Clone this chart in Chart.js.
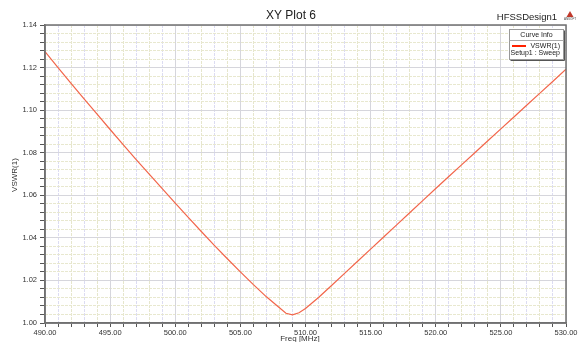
<!DOCTYPE html>
<html>
<head>
<meta charset="utf-8">
<title>XY Plot 6</title>
<script src="https://cdn.jsdelivr.net/npm/chart.js@4"></script>
<style>
  html, body { margin: 0; padding: 0; background: #fff; }
  #wrap { position: relative; width: 581px; height: 342px; }
</style>
</head>
<body>
<div id="wrap"><canvas id="chart" width="581" height="342"></canvas></div>
<script>
// Datos
const freqs = [490, 491, 492, 493, 494, 495, 496, 497, 498, 499, 500, 501, 502, 503, 504, 505, 506, 507, 508, 508.5, 509, 509.5, 510,
  511, 512, 513, 514, 515, 516, 517, 518, 519, 520, 521, 522, 523, 524, 525, 526, 527, 528, 529, 530];
const vswr = [1.1275, 1.1200, 1.1126, 1.1053, 1.0981, 1.0909, 1.0838, 1.0768, 1.0699, 1.0631, 1.0563, 1.0496, 1.0430, 1.0365, 1.0302,
  1.0240, 1.0180, 1.0123, 1.0072, 1.0046, 1.0038, 1.0048, 1.0068, 1.0120, 1.0176, 1.0233, 1.0290, 1.0347, 1.0404, 1.0461, 1.0518,
  1.0575, 1.0632, 1.0688, 1.0744, 1.0800, 1.0856, 1.0912, 1.0968, 1.1024, 1.1080, 1.1136, 1.1192];
const xRange = [490, 530];
const yRange = [1.00, 1.14];
const xStep = 1, xLabelEvery = 5;
const yStep = 0.004, yLabelEvery = 0.02;

const FONT = '"Liberation Sans", Arial, sans-serif';
const MAJOR = '#d6d6dc';

function isMajorX(v) { return Math.round(v) % xLabelEvery === 0; }
function isMajorY(v) { return Math.round(v * 1000) % Math.round(yLabelEvery * 1000) === 0; }

// Textos, leyenda y marco
const decorations = {
  id: 'decorations',
  afterDraw(chart) {
    const ctx = chart.ctx;
    const a = chart.chartArea;
    ctx.save();
    // marco
    ctx.strokeStyle = '#707070';
    ctx.lineWidth = 1.5;
    ctx.strokeRect(a.left, a.top, a.right - a.left, a.bottom - a.top);

    ctx.fillStyle = '#222';
    ctx.textBaseline = 'middle';
    ctx.textAlign = 'center';
    ctx.font = '12px ' + FONT;
    ctx.fillText('XY Plot 6', 291, 16);

    ctx.textAlign = 'right';
    ctx.font = '9.5px ' + FONT;
    ctx.fillText('HFSSDesign1', 557, 17);

    // logo
    ctx.fillStyle = '#c0392b';
    ctx.beginPath();
    ctx.moveTo(570, 11); ctx.lineTo(566.5, 17); ctx.lineTo(573.5, 17); ctx.closePath();
    ctx.fill();
    ctx.fillStyle = '#444';
    ctx.textAlign = 'center';
    ctx.font = '3px ' + FONT;
    ctx.fillText('ANSOFT', 570, 19.5);

    // títulos de ejes
    ctx.fillStyle = '#333';
    ctx.font = '8px ' + FONT;
    ctx.fillText('Freq [MHz]', 300, 339);
    ctx.save();
    ctx.translate(15, (a.top + a.bottom) / 2 + 1);
    ctx.rotate(-Math.PI / 2);
    ctx.fillText('VSWR(1)', 0, 0);
    ctx.restore();

    // leyenda
    const bx = 509.5, by = 29.5, bw = 54, bh = 30;
    ctx.fillStyle = '#fff';
    ctx.fillRect(bx, by, bw, bh);
    ctx.strokeStyle = '#999';
    ctx.lineWidth = 1;
    ctx.strokeRect(bx, by, bw, bh);
    ctx.strokeStyle = '#555';
    ctx.beginPath();
    ctx.moveTo(bx + bw + 1, by + 1); ctx.lineTo(bx + bw + 1, by + bh + 1); ctx.lineTo(bx + 1, by + bh + 1);
    ctx.stroke();
    ctx.strokeStyle = '#aaa';
    ctx.beginPath();
    ctx.moveTo(bx, 40.5); ctx.lineTo(bx + bw, 40.5);
    ctx.stroke();
    ctx.fillStyle = '#222';
    ctx.font = '7px ' + FONT;
    ctx.textAlign = 'center';
    ctx.fillText('Curve Info', bx + bw / 2, 35);
    ctx.strokeStyle = '#ff2200';
    ctx.lineWidth = 2;
    ctx.beginPath();
    ctx.moveTo(512, 46); ctx.lineTo(526, 46);
    ctx.stroke();
    ctx.textAlign = 'right';
    ctx.fillText('VSWR(1)', 560, 46);
    ctx.fillText('Setup1 : Sweep', 560, 53);
    ctx.restore();
  }
};

const tickFont = { family: FONT, size: 7.5 };

new Chart(document.getElementById('chart'), {
  type: 'line',
  data: {
    datasets: [{
      label: 'VSWR(1)',
      data: freqs.map((f, i) => ({ x: f, y: vswr[i] })),
      borderColor: '#f2654a',
      borderWidth: 1.2,
      pointRadius: 0,
      tension: 0,
      fill: false
    }]
  },
  options: {
    responsive: false,
    animation: false,
    events: [],
    layout: { padding: { top: 25, right: 15, left: 0, bottom: 0 } },
    plugins: { legend: { display: false }, title: { display: false }, tooltip: { enabled: false } },
    scales: {
      x2: {
        type: 'linear', position: 'bottom', min: xRange[0], max: xRange[1],
        ticks: { display: false, stepSize: xStep, autoSkip: false },
        grid: {
          drawTicks: false,
          color: ctx => isMajorX(ctx.tick.value) ? 'rgba(0,0,0,0)' : (Math.round(ctx.tick.value) % 2 ? '#dcdcf2' : '#e6e6cc')
        },
        border: { display: false, dash: [3, 1] },
        afterFit(scale) { scale.height = 0; }
      },
      y2: {
        type: 'linear', position: 'left', min: yRange[0], max: yRange[1],
        ticks: { display: false, stepSize: yStep, autoSkip: false },
        grid: {
          drawTicks: false,
          color: ctx => isMajorY(ctx.tick.value) ? 'rgba(0,0,0,0)' : '#e8e8cf'
        },
        border: { display: false, dash: [3, 1] },
        afterFit(scale) { scale.width = 0; }
      },
      x: {
        type: 'linear', position: 'bottom', min: xRange[0], max: xRange[1],
        ticks: {
          stepSize: xStep, autoSkip: false, maxRotation: 0, padding: 1,
          color: '#333', font: tickFont,
          callback: v => isMajorX(v) ? v.toFixed(2) : ''
        },
        grid: {
          color: ctx => isMajorX(ctx.tick.value) ? MAJOR : 'rgba(0,0,0,0)',
          tickColor: '#555', tickLength: 4
        },
        border: { color: '#707070', width: 1.5 },
        afterFit(scale) { scale.height = 19; }
      },
      y: {
        type: 'linear', position: 'left', min: yRange[0], max: yRange[1],
        ticks: {
          stepSize: yStep, autoSkip: false, padding: 3,
          color: '#333', font: tickFont,
          callback: v => isMajorY(v) ? v.toFixed(2) : ''
        },
        grid: {
          color: ctx => isMajorY(ctx.tick.value) ? MAJOR : 'rgba(0,0,0,0)',
          tickColor: '#555', tickLength: 5
        },
        border: { color: '#707070', width: 1.5 },
        afterFit(scale) { scale.width = 45; }
      }
    }
  },
  plugins: [decorations]
});
</script>
</body>
</html>
